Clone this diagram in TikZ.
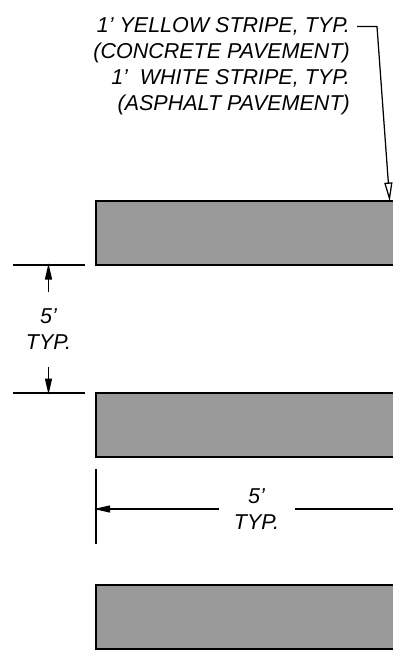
\documentclass[tikz,border=0pt]{standalone}
\usepackage{fontspec}
\setmainfont{Liberation Sans}
\usetikzlibrary{arrows.meta}
\newcommand{\ft}{\char39\relax}
\tikzset{
  x=1pt,y=-1pt,
  lbl/.style={inner sep=0pt,font=\fontsize{21.5}{26}\selectfont\itshape,text=black},
  ln/.style={draw=black,line width=1.1pt},
  stripe/.style={fill=black!40,draw=none},
  filledtip/.style={-{Triangle[length=16pt,width=7pt,black]}},
  opentip/.style={-{Triangle[open,length=19pt,width=8pt,black]}}
}
\begin{document}
\begin{tikzpicture}
\useasboundingbox (0,0) rectangle (393,655);
% stripes
\foreach \t/\b in {201/265,393/457,585/649}{
  \fill[stripe] (96,\t) rectangle (393,\b);
  \draw[ln] (393,\t) -- (96,\t) -- (96,\b) -- (393,\b);
}
% leader label
\node[lbl,anchor=north east,align=right] (note) at (350,17.5) {1\ft{} YELLOW STRIPE, TYP.\\(CONCRETE PAVEMENT)\\1\ft\ \ WHITE STRIPE, TYP.\\(ASPHALT PAVEMENT)};
\coordinate (ls) at (357,26.5);
\coordinate (lk) at (377,26.5);
\coordinate (lt) at (389.7,201.5);
\draw[ln,line width=1.25pt,opentip] (ls) -- (lk) -- (lt);
% vertical dimension
\coordinate (e1a) at (13,265); \coordinate (e1b) at (85,265);
\coordinate (e2a) at (13,393); \coordinate (e2b) at (85,393);
\draw[ln] (e1a) -- (e1b);
\draw[ln] (e2a) -- (e2b);
\node[lbl,align=center] (vd) at (48.5,329.5) {5\ft\\TYP.};
\coordinate (v1) at (48.5,292); \coordinate (v1t) at (48.5,263.5);
\coordinate (v2) at (48.5,367); \coordinate (v2t) at (48.5,394.5);
\draw[ln,filledtip] (v1) -- (v1t);
\draw[ln,filledtip] (v2) -- (v2t);
% horizontal dimension
\coordinate (h1) at (96,469); \coordinate (h2) at (96,544);
\draw[ln] (h1) -- (h2);
\node[lbl,align=center] (hd) at (256.5,509.5) {5\ft\\TYP.};
\coordinate (ha) at (218.5,509); \coordinate (hat) at (94,509);
\coordinate (hb) at (295,509); \coordinate (hc) at (393,509);
\draw[ln,filledtip] (ha) -- (hat);
\draw[ln] (hb) -- (hc);
\end{tikzpicture}
\end{document}
